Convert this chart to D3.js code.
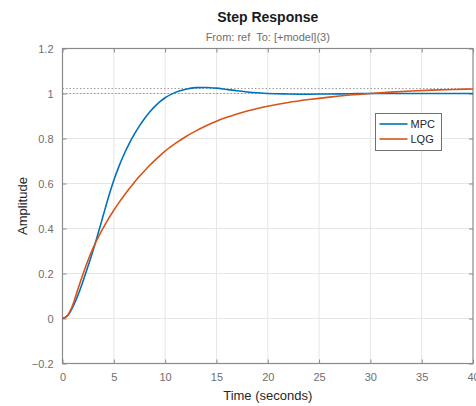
<!DOCTYPE html>
<html>
<head>
<meta charset="utf-8">
<script src="https://cdn.jsdelivr.net/npm/d3@7"></script>
<style>
  body { margin: 0; background: #fff; }
  svg { font-family: Arial, "Liberation Sans", Helvetica, sans-serif; }
</style>
</head>
<body>
<svg id="chart"></svg>
<script>
const time = [0, 0.5, 1, 1.5, 2, 2.5, 3, 3.5, 4, 4.5, 5, 5.5, 6, 6.5, 7, 7.5, 8, 8.5, 9, 9.5, 10,
    11, 12, 13, 14, 15, 16, 17, 18, 19, 20, 22, 24, 26, 28, 30, 32, 34, 36, 38, 40];
const mpc = [0, 0.012, 0.05, 0.103, 0.166, 0.234, 0.305, 0.383, 0.463, 0.542, 0.614, 0.676, 0.73, 0.777, 0.819, 0.856, 0.889, 0.918, 0.943, 0.964, 0.981,
    1.005, 1.019, 1.026, 1.027, 1.024, 1.018, 1.012, 1.007, 1.003, 1.0, 0.998, 0.997, 0.998, 0.999, 1.0, 1.0, 1.0, 1.0, 1.0, 1.0];
const lqg = [0, 0.015, 0.06, 0.13, 0.198, 0.26, 0.315, 0.363, 0.405, 0.445, 0.481, 0.515, 0.547, 0.577, 0.605, 0.632, 0.657, 0.681, 0.703, 0.724, 0.744,
    0.778, 0.808, 0.834, 0.857, 0.877, 0.894, 0.909, 0.922, 0.933, 0.943, 0.96, 0.973, 0.984, 0.993, 1.0, 1.006, 1.011, 1.015, 1.018, 1.02];
const finals = [1.0, 1.022];
const seriesNames = ["MPC", "LQG"];
const seriesColors = ["#0072BD", "#D95319"];
const xTicks = [0, 5, 10, 15, 20, 25, 30, 35, 40];
const yTicks = [-0.2, 0, 0.2, 0.4, 0.6, 0.8, 1, 1.2];

const width = 476;
const height = 406;
const margin = {top: 48.5, right: 3, bottom: 42.5, left: 62.5};

const svg = d3.select("#chart")
    .attr("width", width)
    .attr("height", height)
    .attr("viewBox", [0, 0, width, height]);

const x = d3.scaleLinear().domain([0, 40]).range([margin.left, width - margin.right]);
const y = d3.scaleLinear().domain([-0.2, 1.2]).range([height - margin.bottom, margin.top]);

// grid
svg.append("g")
    .selectAll("line")
    .data(xTicks.slice(1, -1))
    .join("line")
    .attr("x1", d => x(d)).attr("x2", d => x(d))
    .attr("y1", y(1.2)).attr("y2", y(-0.2))
    .attr("stroke", "#e6e6e6").attr("stroke-width", 1);
svg.append("g")
    .selectAll("line")
    .data(yTicks.slice(1, -1))
    .join("line")
    .attr("x1", x(0)).attr("x2", x(40))
    .attr("y1", d => y(d)).attr("y2", d => y(d))
    .attr("stroke", "#e6e6e6").attr("stroke-width", 1);

// steady-state dotted lines
svg.append("g")
    .selectAll("line")
    .data(finals)
    .join("line")
    .attr("x1", x(0)).attr("x2", x(40))
    .attr("y1", d => y(d)).attr("y2", d => y(d))
    .attr("stroke", "#9a9a9a").attr("stroke-width", 1)
    .attr("stroke-dasharray", "1.5,2");

// axes (ticks inside on all four sides)
const axisColor = "#8a8a8a";
const styleAxis = g => {
    g.select(".domain").remove();
    g.selectAll(".tick line").attr("stroke", axisColor);
    g.selectAll(".tick text").attr("fill", "#6e6e6e").style("font-size", "11px");
};
svg.append("g")
    .attr("transform", `translate(0,${y(-0.2)})`)
    .call(d3.axisBottom(x).tickValues(xTicks).tickSize(-4).tickPadding(10).tickFormat(d3.format("d")))
    .call(styleAxis);
svg.append("g")
    .attr("transform", `translate(0,${y(1.2)})`)
    .call(d3.axisTop(x).tickValues(xTicks).tickSize(-4).tickFormat(""))
    .call(styleAxis);
svg.append("g")
    .attr("transform", `translate(${x(0)},0)`)
    .call(d3.axisLeft(y).tickValues(yTicks).tickSize(-4).tickPadding(9).tickFormat(d => d === 0 ? "0" : d === 1 ? "1" : d3.format(".1f")(d)))
    .call(styleAxis);
svg.append("g")
    .attr("transform", `translate(${x(40)},0)`)
    .call(d3.axisRight(y).tickValues(yTicks).tickSize(-4).tickFormat(""))
    .call(styleAxis);

svg.append("rect")
    .attr("x", x(0)).attr("y", y(1.2))
    .attr("width", x(40) - x(0)).attr("height", y(-0.2) - y(1.2))
    .attr("fill", "none").attr("stroke", axisColor).attr("stroke-width", 1.2);

// curves
const line = d3.line()
    .x((d, i) => x(time[i]))
    .y(d => y(d))
    .curve(d3.curveMonotoneX);

[mpc, lqg].forEach((s, i) => {
    svg.append("path")
        .attr("d", line(s))
        .attr("fill", "none")
        .attr("stroke", seriesColors[i])
        .attr("stroke-width", 1.6);
});

// titles
svg.append("text")
    .attr("x", (x(0) + x(40)) / 2).attr("y", 22)
    .attr("text-anchor", "middle")
    .style("font-size", "14px").style("font-weight", "bold")
    .attr("fill", "#1a1a1a")
    .text("Step Response");
svg.append("text")
    .attr("x", (x(0) + x(40)) / 2).attr("y", 41)
    .attr("text-anchor", "middle")
    .style("font-size", "11px")
    .attr("fill", "#6e6e6e")
    .text("From: ref\u00a0 To: [+model](3)");
svg.append("text")
    .attr("x", (x(0) + x(40)) / 2).attr("y", 400)
    .attr("text-anchor", "middle")
    .style("font-size", "13px")
    .attr("fill", "#262626")
    .text("Time (seconds)");
svg.append("text")
    .attr("transform", `translate(27,${(y(-0.2) + y(1.2)) / 2}) rotate(-90)`)
    .attr("text-anchor", "middle")
    .style("font-size", "13px")
    .attr("fill", "#262626")
    .text("Amplitude");

// legend
const legend = svg.append("g").attr("transform", "translate(375.5,113.5)");
legend.append("rect")
    .attr("width", 66).attr("height", 37)
    .attr("fill", "#fff").attr("stroke", "#707070").attr("stroke-width", 1);
seriesNames.forEach((name, i) => {
    const ly = 10.5 + i * 15;
    legend.append("line")
        .attr("x1", 4).attr("x2", 32)
        .attr("y1", ly).attr("y2", ly)
        .attr("stroke", seriesColors[i]).attr("stroke-width", 1.6);
    legend.append("text")
        .attr("x", 35).attr("y", ly + 4)
        .style("font-size", "11px")
        .attr("fill", "#262626")
        .text(name);
});
</script>
</body>
</html>
